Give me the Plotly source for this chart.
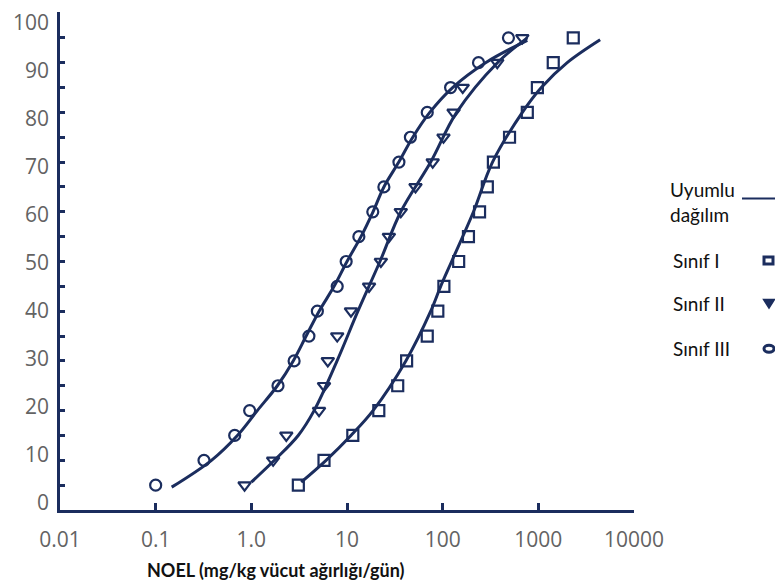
import plotly.graph_objects as go

# ---------------- data ----------------
percent = [5, 10, 15, 20, 25, 30, 35, 40, 45, 50, 55, 60, 65, 70, 75, 80, 85, 90, 95]

sinif1_noel = [3.1, 5.75, 11.5, 21.5, 33.9, 42, 69, 89, 103, 147, 186, 243, 293, 339, 500, 767, 977, 1432, 2318]
sinif2_noel = [0.85, 1.69, 2.32, 5.1, 5.75, 6.3, 7.9, 11, 17, 22.6, 27.4, 36.5, 52, 78.7, 102, 130, 162, 372, 680]
sinif3_noel = [0.10, 0.32, 0.67, 0.96, 1.9, 2.8, 4.0, 4.9, 7.9, 9.8, 13.3, 18.6, 24.3, 34.9, 46, 69, 121, 237, 487]

fit1_x = [3.32, 6.04, 11.0, 18.7, 41.2, 75, 95.3, 124, 210, 332, 681, 1075, 2004, 4425]
fit1_y = [5.6, 10, 15, 20, 30, 40, 45, 50, 60, 70, 80, 85, 90, 94.6]
fit2_x = [1.00, 1.74, 3.09, 4.53, 7.87, 13.0, 22.1, 36.5, 75, 140, 374, 767]
fit2_y = [5.6, 10, 15, 20, 30, 40, 50, 60, 70, 80, 90, 95]
fit3_x = [0.147, 0.383, 0.715, 1.155, 1.87, 2.74, 3.74, 5.11, 7.33, 10.0, 14.0, 18.7, 24.3, 34.8, 48.7, 73.3, 127, 281, 767]
fit3_y = [4.6, 10, 15, 20, 25, 30, 35, 40, 45, 50, 55, 60, 65, 70, 75, 80, 85, 90, 94.5]

x_tickvals = [0.01, 0.1, 1, 10, 100, 1000, 10000]
x_ticktext = ["0.01", "0.1", "1.0", "10", "100", "1000", "10000"]
y_tickvals = [0, 10, 20, 30, 40, 50, 60, 70, 80, 90, 100]

x_title = "NOEL (mg/kg vücut ağırlığı/gün)"
legend_labels = ["Uyumlu<br>dağılım", "Sınıf I", "Sınıf II", "Sınıf III"]

# ---------------- styling / layout (screen pixels) ----------------
NAVY = "#1b2d5e"
OFF = 8                      # page body margin
SCR_W, SCR_H = 783, 585
W, H = SCR_W - OFF, SCR_H - OFF
PL, PR, PT, PB = 60, 634, 8, 510          # plot area on screen
ML, MR, MT, MB = PL - OFF, W - (PR - OFF), PT - OFF, H - (PB - OFF)
PW, PH = PR - PL, PB - PT
Y_MAX = 100.2
# tick labels in the original sit slightly off their ticks: 0 at y=503, 100 at y=19
LAB0, LAB100 = 503, 19
lab_span = 100 * PH / ((PB - LAB100) - (PB - LAB0))
lab_r0 = -(PB - LAB0) * lab_span / PH
lab_r1 = lab_r0 + lab_span

TICKFONT = dict(family="Open Sans", size=21, color="#636363")
TEXTFONT = dict(family="Lato", size=19, color="#111111")


def px2paper(px, py):
    return (px - PL) / PW, (PB - py) / PH


fig = go.Figure()

for fx, fy in [(fit1_x, fit1_y), (fit2_x, fit2_y), (fit3_x, fit3_y)]:
    fig.add_trace(go.Scatter(x=fx, y=fy, mode="lines",
                             line=dict(color=NAVY, width=3, shape="spline", smoothing=1.0),
                             showlegend=False, hoverinfo="skip"))

for xs, sym in [(sinif1_noel, "square-open"), (sinif2_noel, "triangle-down-open"),
                (sinif3_noel, "circle-open")]:
    fig.add_trace(go.Scatter(x=xs, y=percent, mode="markers",
                             marker=dict(symbol=sym, size=11, color=NAVY,
                                         line=dict(color=NAVY, width=2.2)),
                             showlegend=False))

# empty trace so the label axis is drawn
fig.add_trace(go.Scatter(x=[None], y=[None], yaxis="y2", showlegend=False, hoverinfo="skip"))

fig.update_layout(
    xaxis=dict(type="log", range=[-2, 4], tickvals=x_tickvals, ticktext=x_ticktext,
               ticks="inside", ticklen=7, tickwidth=2.5, tickcolor=NAVY,
               showline=True, linecolor=NAVY, linewidth=3,
               showgrid=False, zeroline=False, tickfont=TICKFONT,
               ticklabelstandoff=9, ticklabeloverflow="allow"),
    yaxis=dict(range=[0, Y_MAX], tickvals=y_tickvals, showticklabels=False,
               ticks="inside", ticklen=5, tickwidth=2.5, tickcolor=NAVY,
               minor=dict(dtick=5, tick0=0, ticks="inside", ticklen=5, tickwidth=2.5,
                          tickcolor=NAVY, showgrid=False),
               showline=True, linecolor=NAVY, linewidth=3,
               showgrid=False, zeroline=False),
    yaxis2=dict(overlaying="y", side="left", range=[lab_r0, lab_r1], tickvals=y_tickvals,
                ticks="", showline=False, showgrid=False, zeroline=False,
                tickfont=TICKFONT, ticklabelstandoff=10, ticklabeloverflow="allow"),
)

annotations = []
ax, ay = px2paper(276, 570)
annotations.append(dict(x=ax, y=ay, xref="paper", yref="paper", text="<b>" + x_title + "</b>",
                        showarrow=False, xanchor="center", yanchor="middle",
                        font=dict(family="Lato", size=18, color="#111111")))

legend_pos = [(668, 200), (671, 258), (671, 302), (671, 347)]
for lab, (lx, ly) in zip(legend_labels, legend_pos):
    px_, py_ = px2paper(lx, ly)
    annotations.append(dict(x=px_, y=py_, xref="paper", yref="paper", text=lab,
                            showarrow=False, xanchor="left", yanchor="middle", align="left",
                            font=TEXTFONT))

shapes = []
x0, y0 = px2paper(742, 196)
x1, _ = px2paper(775, 196)
shapes.append(dict(type="line", xref="paper", yref="paper", x0=x0, x1=x1, y0=y0, y1=y0,
                   line=dict(color=NAVY, width=2)))
# square key
a0, b0 = px2paper(764, 262)
a1, b1 = px2paper(773, 255)
shapes.append(dict(type="rect", xref="paper", yref="paper", x0=a0, x1=a1, y0=b0, y1=b1,
                   line=dict(color=NAVY, width=3)))
# triangle key
ta, tb = px2paper(764, 298)
tc, td = px2paper(774, 298)
te, tf = px2paper(769, 306)
shapes.append(dict(type="path", xref="paper", yref="paper",
                   path=f"M {ta} {tb} L {tc} {td} L {te} {tf} Z",
                   fillcolor=NAVY, line=dict(color=NAVY, width=2)))
# circle key
c0, d0 = px2paper(764, 351)
c1, d1 = px2paper(774, 344)
shapes.append(dict(type="circle", xref="paper", yref="paper", x0=c0, x1=c1, y0=d0, y1=d1,
                   line=dict(color=NAVY, width=3)))

fig.update_layout(width=W, height=H, margin=dict(l=ML, r=MR, t=MT, b=MB, pad=0),
                  plot_bgcolor="white", paper_bgcolor="white",
                  annotations=annotations, shapes=shapes, showlegend=False)

fig.write_html("out.html")
